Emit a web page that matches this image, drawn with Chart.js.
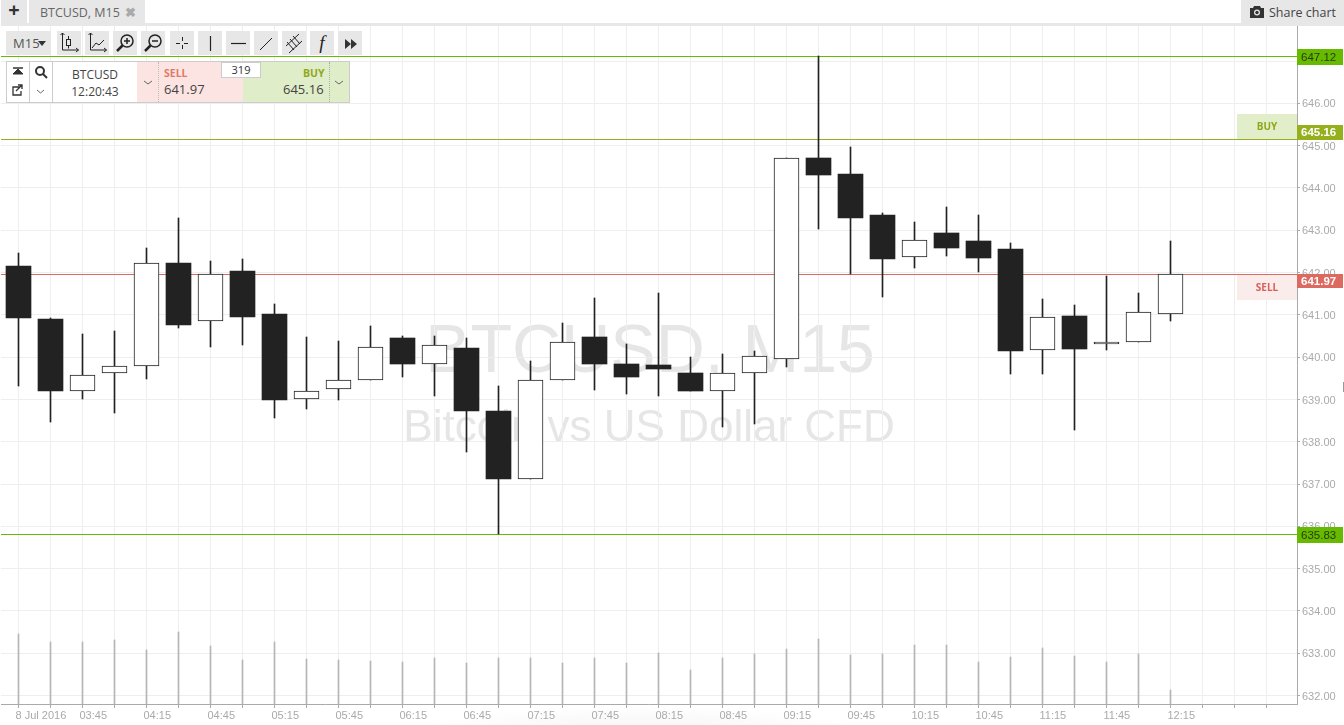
<!DOCTYPE html>
<html>
<head>
<meta charset="utf-8">
<title>BTCUSD, M15</title>
<script src="https://cdn.jsdelivr.net/npm/chart.js@4"></script>
<style>
    html, body { margin: 0; padding: 0; background: #fff; width: 1344px; height: 725px; overflow: hidden; }
    body { position: relative; font-family: "Open Sans", sans-serif; color: #444; }
    #shade { position: absolute; left: 380px; top: 705px; width: 520px; height: 40px;
             background: radial-gradient(ellipse at center bottom, #efefef 0%, #fff 70%); }
    canvas { position: absolute; left: 0; top: 0; }
    .ui { position: absolute; box-sizing: border-box; }
    .grey { background: #e7e7e7; }
    .btn svg { position: absolute; left: 0; top: 0; }
</style>
</head>
<body>
<div id="shade"></div>
<canvas id="chart" width="1344" height="725"></canvas>

<!-- tab bar -->
<div class="ui grey" style="left:1px;top:23px;width:1343px;height:3px"></div>
<div class="ui grey" style="left:1px;top:0;width:26px;height:23px;font-size:20px;font-weight:700;line-height:19px;text-align:center;color:#333">+</div>
<div class="ui grey" style="left:29px;top:0;width:116px;height:23px;font-size:12.5px;line-height:25px;padding-left:11px;color:#666">BTCUSD, M15<span style="position:absolute;left:96px;top:0;font-weight:700;color:#aaa">&#10006;</span></div>
<div class="ui grey" style="left:1241px;top:0;width:103px;height:26px;font-size:12.5px;line-height:25px;padding-left:28px;color:#444">Share chart
    <svg style="position:absolute;left:9px;top:6px" width="14" height="12"><path d="M0 2h3l1-2h6l1 2h3v10H0z" fill="#333"/><circle cx="7" cy="6.5" r="3" fill="#e7e7e7"/><circle cx="7" cy="6.5" r="1.7" fill="#333"/></svg>
</div>

<!-- tool buttons -->
<div class="ui grey" style="left:6px;top:31px;width:45px;height:24px;font-size:13px;line-height:25px;padding-left:7px;color:#555">M15<span style="position:absolute;left:32px;top:10px;border:4px solid transparent;border-top:5px solid #333;border-bottom:0"></span></div>
<div class="ui grey btn" style="left:57px;top:31px;width:24px;height:24px"><svg width="24" height="24" fill="none" stroke="#222"><path d="M5.5 2v17h16M19 17l2.500 2-2.500 2M3.500 4l2-2 2 2"/><rect x="9.500" y="8.500" width="4" height="6"/><path d="M11.500 5v3.500M11.500 14.500v3"/></svg></div>
<div class="ui grey btn" style="left:85px;top:31px;width:24px;height:24px"><svg width="24" height="24" fill="none" stroke="#222"><path d="M5.500 2v17h16M19 17l2.500 2-2.500 2M3.500 4l2-2 2 2M7 17l4-5 3 2 5-5"/></svg></div>
<div class="ui grey btn" style="left:113px;top:31px;width:24px;height:24px"><svg width="24" height="24" fill="none" stroke="#222" stroke-width="1.500"><circle cx="14" cy="10" r="6"/><path d="M9.500 14.500L4 20" stroke-width="2.500"/><path d="M11 10h6M14 7v6"/></svg></div>
<div class="ui grey btn" style="left:141px;top:31px;width:24px;height:24px"><svg width="24" height="24" fill="none" stroke="#222" stroke-width="1.500"><circle cx="14" cy="10" r="6"/><path d="M9.500 14.500L4 20" stroke-width="2.500"/><path d="M11 10h6"/></svg></div>
<div class="ui grey btn" style="left:170px;top:31px;width:24px;height:24px"><svg width="24" height="24" fill="none" stroke="#222"><path d="M12.500 6v4M12.500 14v4M6 12.500h4M14 12.500h4"/></svg></div>
<div class="ui grey btn" style="left:198px;top:31px;width:24px;height:24px"><svg width="24" height="24" fill="none" stroke="#222" stroke-width="1.200"><path d="M12.500 5v15"/></svg></div>
<div class="ui grey btn" style="left:226px;top:31px;width:24px;height:24px"><svg width="24" height="24" fill="none" stroke="#222" stroke-width="1.200"><path d="M5 12.500h15"/></svg></div>
<div class="ui grey btn" style="left:254px;top:31px;width:24px;height:24px"><svg width="24" height="24" fill="none" stroke="#222"><path d="M6 19L18 7"/></svg></div>
<div class="ui grey btn" style="left:282px;top:31px;width:24px;height:24px"><svg width="24" height="24" fill="none" stroke="#222"><path d="M4 15L17 3M7 22L20 10M5 11l7 8M8 8l7 8M11 5l7 8"/></svg></div>
<div class="ui grey" style="left:310px;top:31px;width:24px;height:24px;font-family:'Liberation Serif',serif;font-style:italic;font-size:19px;line-height:24px;text-align:center;color:#222">f</div>
<div class="ui grey btn" style="left:338px;top:31px;width:24px;height:24px"><svg width="24" height="24" fill="#333"><path d="M7 8l6 5-6 5zM13 8l6 5-6 5z"/></svg></div>

<!-- trade panel -->
<div class="ui" style="left:6px;top:61px;width:344px;height:42px;border:1px solid #ccc;background:#fff"></div>
<div class="ui" style="left:29px;top:62px;width:1px;height:40px;background:#ccc"></div>
<div class="ui" style="left:7px;top:62px;width:22px;height:40px"><svg width="22" height="40" fill="none" stroke="#333"><path d="M6 6h10" stroke-width="1.500"/><path d="M11 7l-5 5h10z" fill="#333"/><path d="M13 25H6v8h8v-4M9 29l6-6M11 23h4v4" stroke-width="1.300"/></svg></div>
<div class="ui" style="left:30px;top:62px;width:22px;height:40px"><svg width="22" height="40" fill="none" stroke="#333"><circle cx="10" cy="9" r="4" stroke-width="2"/><path d="M13 12l4 4" stroke-width="2"/><path d="M7 28l3.500 3 3.500-3" stroke="#666"/></svg></div>
<div class="ui" style="left:52px;top:62px;width:85px;height:40px;border-left:1px solid #ccc;text-align:center;font-size:12px;line-height:17px;padding-top:4px;color:#444">BTCUSD<br>12:20:43</div>
<div class="ui" style="left:137px;top:62px;width:106px;height:40px;background:#fbe4e2"></div>
<div class="ui" style="left:158px;top:62px;width:1px;height:40px;border-left:1px dotted #bbb"></div>
<div class="ui" style="left:243px;top:62px;width:106px;height:40px;background:#e0edc9"></div>
<div class="ui" style="left:329px;top:62px;width:1px;height:40px;border-left:1px dotted #aaa"></div>
<div class="ui" style="left:141px;top:72px"><svg width="14" height="14" fill="none" stroke="#666"><path d="M3 6l4 3 4-3"/></svg></div>
<div class="ui" style="left:332px;top:72px"><svg width="14" height="14" fill="none" stroke="#666"><path d="M3 6l4 3 4-3"/></svg></div>
<div class="ui" style="left:164px;top:67px;font-size:10.500px;font-weight:700;line-height:13px;color:#e07a68">SELL</div>
<div class="ui" style="left:164px;top:81px;font-size:13px;line-height:16px;color:#444">641.97</div>
<div class="ui" style="left:303px;top:67px;font-size:10.500px;font-weight:700;line-height:13px;color:#8fa81a">BUY</div>
<div class="ui" style="left:283px;top:81px;font-size:13px;line-height:16px;color:#444">645.16</div>
<div class="ui" style="left:221px;top:62px;width:40px;height:16px;background:#fff;border:1px solid #ccc;font-size:11px;line-height:14px;text-align:center;color:#333">319</div>
<div class="ui" style="left:1343px;top:382px;width:1px;height:10px;background:#999"></div>

<script>
const categories = ['8 Jul 2016', '', '03:45', '', '04:15', '', '04:45', '', '05:15', '', '05:45', '', '06:15', '',
    '06:45', '', '07:15', '', '07:45', '', '08:15', '', '08:45', '', '09:15', '', '09:45', '', '10:15', '', '10:45', '',
    '11:15', '', '11:45', '', '12:15', '', '', ''];

const openPrices = [642.15, 640.90, 639.21, 639.62, 639.80, 642.22, 640.85, 642.03, 641.02, 639.00, 639.24, 639.47,
    640.45, 639.85, 640.21, 638.72, 637.13, 639.47, 640.47, 639.84, 639.81, 639.62, 639.21, 639.62, 639.95, 644.71,
    644.33, 643.36, 642.36, 642.93, 642.74, 642.55, 640.16, 640.97, 640.30, 640.37, 641.03];
const closePrices = [640.93, 639.20, 639.57, 639.80, 642.22, 640.76, 641.96, 640.95, 638.99, 639.21, 639.47, 640.23,
    639.84, 640.28, 638.73, 637.12, 639.47, 640.37, 639.84, 639.54, 639.72, 639.20, 639.62, 640.02, 644.70, 644.31,
    643.30, 642.33, 642.76, 642.59, 642.35, 640.15, 640.96, 640.20, 640.37, 641.06, 641.97];
const highPrices = [642.46, 640.92, 640.55, 640.62, 642.58, 643.29, 642.27, 642.33, 641.25, 640.47, 640.38, 640.73,
    640.51, 640.50, 640.45, 639.32, 639.91, 640.81, 641.40, 640.31, 641.51, 640.00, 640.07, 640.14, 644.72, 647.12,
    644.97, 643.42, 643.19, 643.55, 643.36, 642.71, 641.37, 641.23, 641.92, 641.51, 642.74];
const lowPrices = [639.33, 638.46, 639.01, 638.68, 639.49, 640.68, 640.24, 640.29, 638.57, 638.78, 638.99, 639.47,
    639.54, 639.09, 637.76, 635.83, 637.13, 639.47, 639.23, 639.14, 639.09, 639.20, 638.35, 638.41, 639.77, 643.03,
    641.97, 641.43, 642.11, 642.40, 642.02, 639.61, 639.61, 638.27, 640.17, 640.37, 640.86];
const volumes = [211, 187, 187, 193, 163, 215, 173, 133, 185, 135, 133, 129, 127, 139, 122, 137, 137, 122, 138, 122,
    152, 101, 137, 149, 164, 196, 146, 149, 178, 176, 125, 140, 167, 144, 125, 149, 43];

const levelValues = [647.12, 645.16, 641.97, 635.83];
const levelColors = ['#66bb00', '#94b01c', '#dd6a60', '#66bb00'];
const levelLabels = ['647.12', '645.16', '641.97', '635.83'];

const INK = '#222222';
const GRID = '#eeeeee';
const AXIS = '#aaaaaa';
const AXIS_FONT = { family: '"Liberation Sans", Arial, sans-serif', size: 11 };

const upBodies = [];
const downBodies = [];
const wicks = [];
const volumeBars = [];
openPrices.forEach(function(open, i) {
    const body = { x: i, y: [open, closePrices[i]] };
    if (closePrices[i] > open) upBodies.push(body); else downBodies.push(body);
    wicks.push({ x: i, y: [lowPrices[i], highPrices[i]] });
    volumeBars.push({ x: i, y: volumes[i] });
});

// price lines and the BUY / SELL blocks sit between the grid and the candles
const levelsPlugin = {
    id: 'levels',
    beforeDatasetsDraw(chart) {
        const { ctx, chartArea, scales } = chart;
        // bars land on whole pixels, the reference has crisp candle edges
        chart.getSortedVisibleDatasetMetas().forEach(function(meta) {
            meta.data.forEach(function(bar) {
                bar.x = Math.floor(bar.x) + 0.5;
                bar.width = Math.round(bar.width);
                bar.y = Math.round(bar.y);
                bar.base = Math.round(bar.base);
            });
        });
        ctx.save();
        const buyY = Math.round(scales.y.getPixelForValue(levelValues[1]));
        const sellY = Math.round(scales.y.getPixelForValue(levelValues[2]));
        ctx.fillStyle = '#e2eeca';
        ctx.fillRect(chartArea.right - 60, buyY - 25, 60, 25);
        ctx.fillStyle = '#f9ecea';
        ctx.fillRect(chartArea.right - 60, sellY, 60, 26);
        ctx.font = 'bold 10px "Open Sans", sans-serif';
        ctx.textAlign = 'center';
        ctx.textBaseline = 'middle';
        ctx.fillStyle = '#8fa81a';
        ctx.fillText('BUY', chartArea.right - 30, buyY - 12);
        ctx.fillStyle = '#d9605a';
        ctx.fillText('SELL', chartArea.right - 30, sellY + 14);
        levelValues.forEach(function(value, i) {
            const y = Math.round(scales.y.getPixelForValue(value)) + 0.5;
            ctx.strokeStyle = levelColors[i];
            ctx.lineWidth = 1;
            ctx.beginPath();
            ctx.moveTo(chartArea.left, y);
            ctx.lineTo(chartArea.right, y);
            ctx.stroke();
        });
        ctx.restore();
    },
    afterDraw(chart) {
        const { ctx, chartArea, scales } = chart;
        const badgeTop = [-7, -14, 0, -7];
        const badgeHeight = [16, 15, 14, 16];
        const badgeText = ['#2c3a10', '#ffffff', '#ffffff', '#2c3a10'];
        const badgeWeight = ['', 'bold ', 'bold ', ''];
        ctx.save();
        ctx.textAlign = 'left';
        ctx.textBaseline = 'middle';
        levelValues.forEach(function(value, i) {
            const y = Math.round(scales.y.getPixelForValue(value));
            ctx.fillStyle = levelColors[i];
            ctx.fillRect(chartArea.right, y + badgeTop[i], 46, badgeHeight[i]);
            ctx.fillStyle = badgeText[i];
            ctx.font = badgeWeight[i] + '11.5px "Liberation Sans", Arial, sans-serif';
            ctx.fillText(levelLabels[i], chartArea.right + 4, y + badgeTop[i] + badgeHeight[i] / 2 + 0.5);
        });
        ctx.restore();
    }
};

const watermarkPlugin = {
    id: 'watermark',
    beforeDraw(chart) {
        const { ctx } = chart;
        ctx.save();
        ctx.fillStyle = '#e6e6e6';
        ctx.textAlign = 'center';
        ctx.textBaseline = 'middle';
        ctx.font = '68px "Liberation Sans", Arial, sans-serif';
        ctx.fillText('BTCUSD, M15', 650, 353);
        ctx.font = '44px "Liberation Sans", Arial, sans-serif';
        ctx.fillText('Bitcoin vs US Dollar CFD', 649, 429);
        ctx.restore();
    }
};

new Chart(document.getElementById('chart'), {
    type: 'bar',
    data: {
        datasets: [
            { label: 'Down', data: downBodies, backgroundColor: INK, borderColor: INK, borderWidth: 0,
              barThickness: 25, grouped: false, yAxisID: 'y', order: 1 },
            { label: 'Up', data: upBodies, backgroundColor: '#ffffff', borderColor: INK, borderWidth: 1,
              borderSkipped: false, barThickness: 25, grouped: false, yAxisID: 'y', order: 2 },
            { label: 'Range', data: wicks, backgroundColor: INK, borderWidth: 0,
              barThickness: 1, grouped: false, yAxisID: 'y', order: 3 },
            { label: 'Volume', data: volumeBars, backgroundColor: '#b5b5b5', borderWidth: 0,
              barThickness: 1, grouped: false, yAxisID: 'volume', order: 4 }
        ]
    },
    options: {
        responsive: false,
        animation: false,
        layout: { padding: { left: 1, top: 26, right: 0, bottom: 0 } },
        plugins: { legend: { display: false }, tooltip: { enabled: false } },
        scales: {
            x: {
                type: 'linear',
                offset: false,
                min: -0.546875,
                max: 39.953125,
                afterFit(scale) { scale.height = 21; },
                grid: { offset: false, color: GRID, tickColor: AXIS, tickLength: 4 },
                border: { color: AXIS },
                ticks: {
                    stepSize: 1,
                    includeBounds: false,
                    autoSkip: false,
                    maxRotation: 0,
                    maxTicksLimit: 100,
                    align: 'start',
                    labelOffset: -3,
                    padding: 1,
                    color: AXIS,
                    font: AXIS_FONT,
                    callback: function(value) { return categories[value]; }
                }
            },
            y: {
                position: 'right',
                min: 631.80,
                max: 647.83,
                afterFit(scale) { scale.width = 47; },
                grid: { color: GRID, tickColor: AXIS, tickLength: 3 },
                border: { color: AXIS },
                ticks: {
                    stepSize: 1,
                    includeBounds: false,
                    maxTicksLimit: 100,
                    padding: 2,
                    labelOffset: 1,
                    color: AXIS,
                    font: AXIS_FONT,
                    callback: function(value) { return value.toFixed(2); }
                }
            },
            volume: {
                display: false,
                position: 'right',
                min: 0,
                max: 2034
            }
        }
    },
    plugins: [levelsPlugin, watermarkPlugin]
});
</script>
</body>
</html>
